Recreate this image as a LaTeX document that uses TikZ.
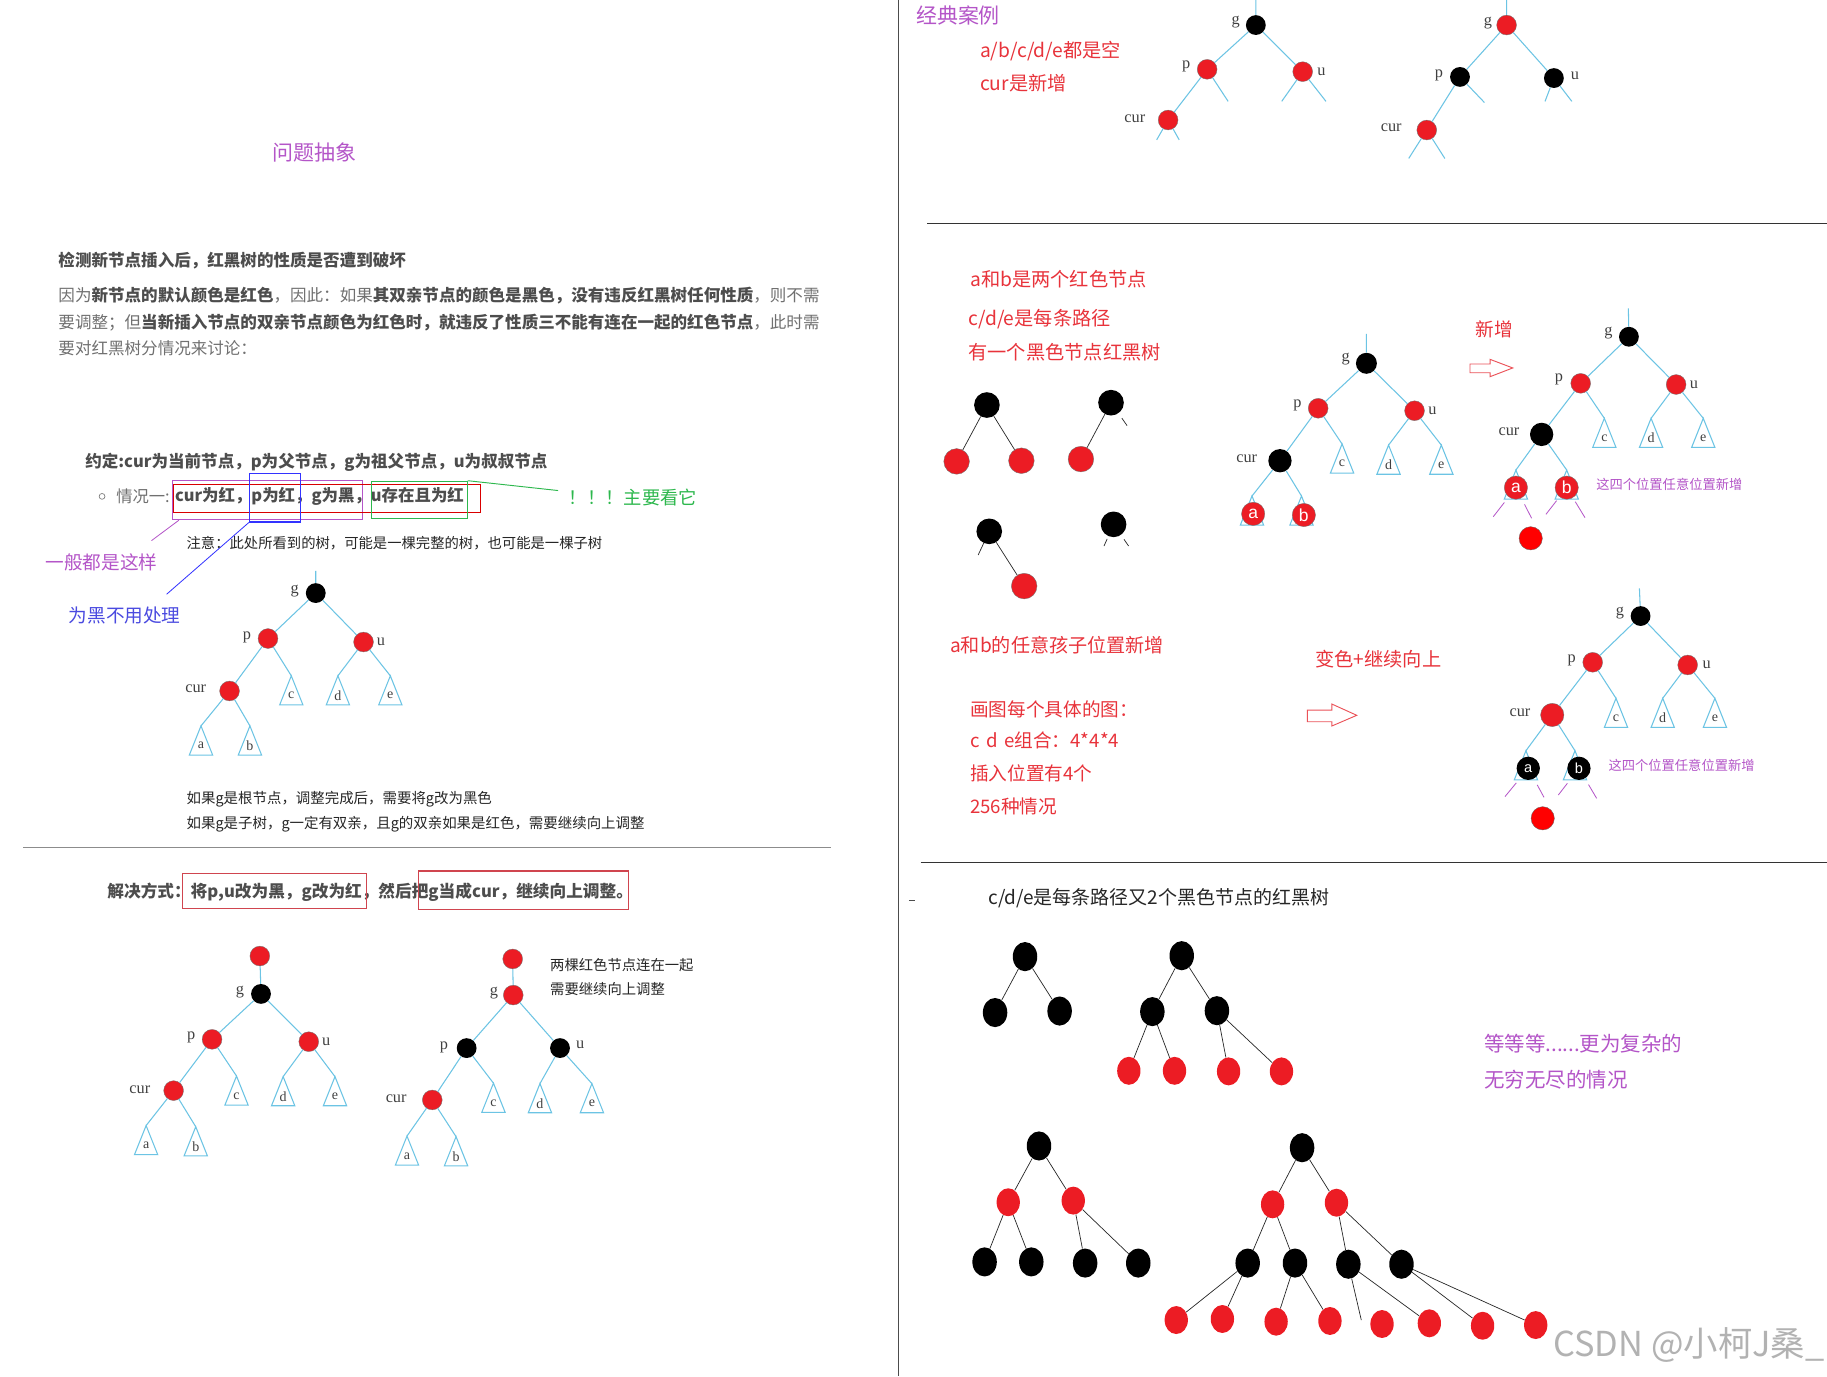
\documentclass[tikz,border=0pt]{standalone}
\usepackage{fontspec}
\setmainfont{Noto Sans CJK SC}
\newfontfamily\lab{Liberation Serif}
\newfontfamily\lsans{Liberation Sans}
\usetikzlibrary{shapes.geometric,calc}
\definecolor{nred}{HTML}{EC1C24}
\definecolor{pred}{HTML}{FF0000}
\definecolor{eblue}{HTML}{6CC4E4}
\definecolor{tred}{HTML}{E8333B}
\definecolor{purp}{HTML}{B455C8}
\definecolor{gtxt}{HTML}{4D4D4D}
\definecolor{ltxt}{HTML}{707070}
\definecolor{grn}{HTML}{2DB84D}
\definecolor{bltxt}{HTML}{4A4AE0}
\definecolor{boxred}{HTML}{D0454F}
\newcommand\myfs[1]{\fontsize{#1}{#1}\selectfont}
\newcommand\bd[1]{{\bfseries\color{gtxt}#1}}
\tikzset{
 rn/.style={circle, fill=nred, draw=black!55, line width=0.3pt, minimum size=17pt, inner sep=0pt},
 bn/.style={circle, fill=black, minimum size=17pt, inner sep=0pt},
 big/.style={minimum size=20pt},
 nn/.style={circle, fill=pred, draw=black!60, line width=0.3pt, minimum size=20pt, inner sep=0pt},
 edge/.style={eblue, line width=0.9pt},
 bline/.style={black!85, line width=0.6pt},
 pline/.style={purp, line width=0.7pt, shorten <=6pt},
 tri/.style={eblue, line width=0.9pt},
 tlab/.style={font=\lab\myfs{12}, text=black!75, inner sep=0pt},
 nl/.style={font=\lab\myfs{14}, text=black!75, inner sep=0pt},
 inl/.style={text=white, font=\lsans\myfs{15}},
 inls/.style={text=white, font=\lsans\myfs{12.5}},
 txt/.style={inner sep=0pt, anchor=west},
 ebk/.style={ellipse, fill=black, minimum width=21pt, minimum height=25pt, inner sep=0pt},
 erd/.style={ellipse, fill=nred, minimum width=20pt, minimum height=24pt, inner sep=0pt},
 arrowshape/.style={draw=tred!85, line width=0.8pt, fill=white},
}
\newcommand\subt[4]{%
  \coordinate (#1) at (#2,#3);
  \draw[tri] (#1) -- ++(-10,25) -- ++(20,0) -- cycle;
  \node[tlab] (#1l) at ($(#1)+(0,17)$) {#4};}
\begin{document}
\begin{tikzpicture}[x=1pt,y=-1pt]
\useasboundingbox (0,0) rectangle (1568,1181);
\fill[white] (0,0) rectangle (1568,1181);

% ---------- dividers
\draw[black!70, line width=0.9pt] (771,0) -- (771,1181);
\draw[black!45, line width=0.8pt] (20,727) -- (713,727);
\draw[black!80, line width=0.8pt] (796,192) -- (1568,192);
\draw[black!80, line width=0.8pt] (790,740) -- (1568,740);

% ---------- left texts
\node[anchor=center, inner sep=0pt, text=purp, font=\myfs{18}] (title) at (270,131) {问题抽象};
\node[txt, text=gtxt, font=\bfseries\myfs{14.2}] (q1) at (50,224) {检测新节点插入后，红黑树的性质是否遭到破坏};
\node[txt, text=ltxt, font=\myfs{14.2}] (q2) at (50,254) {因为\bd{新节点的默认颜色是红色}，因此：如果\bd{其双亲节点的颜色是黑色，没有违反红黑树任何性质}，则不需};
\node[txt, text=ltxt, font=\myfs{14.2}] (q3) at (50,277) {要调整；但\bd{当新插入节点的双亲节点颜色为红色时，就违反了性质三不能有连在一起的红色节点}，此时需};
\node[txt, text=ltxt, font=\myfs{14.2}] (q4) at (50,299) {要对红黑树分情况来讨论：};

\node[txt, text=gtxt, font=\bfseries\myfs{14.2}] (conv) at (73,397) {约定:cur为当前节点，p为父节点，g为祖父节点，u为叔叔节点};
\node[circle, draw=black!50, line width=0.6pt, minimum size=5pt, inner sep=0pt] (bul) at (87.6,426) {};
\node[txt, text=ltxt, font=\myfs{14}] (case1) at (99.6,426) {情况一:};
\node[txt, text=gtxt, font=\bfseries\myfs{14.1}] (case1b) at (150,426) {cur为红，p为红，g为黑，u存在且为红};
\node[draw=purp, line width=0.9pt, minimum width=163pt, minimum height=34pt, inner sep=0pt] (bxp) at (229.5,429) {};
\node[draw=red!85!black, line width=0.9pt, minimum width=263pt, minimum height=24pt, inner sep=0pt] (bxr) at (280.5,428) {};
\node[draw=blue!80, line width=0.9pt, minimum width=44pt, minimum height=42pt, inner sep=0pt] (bxb) at (236,427) {};
\node[draw=grn, line width=0.9pt, minimum width=82pt, minimum height=32pt, inner sep=0pt] (bxg) at (360,429) {};
\node[txt, text=grn, font=\myfs{15.7}] (look) at (488,427) {！！！主要看它};
\coordinate (lookc) at (479,421);
\draw[grn, line width=0.8pt] (bxg.north east) -- (lookc);
\node[anchor=center, inner sep=0pt, text=purp, font=\myfs{16}] (usual) at (87,483) {一般都是这样};
\coordinate (usualc) at (130,464);
\draw[purp, line width=0.7pt] ($(bxp.south west)+(6,0)$) -- (usualc);
\node[anchor=center, inner sep=0pt, text=bltxt, font=\myfs{16}] (blk) at (107,528) {为黑不用处理};
\coordinate (blkc) at (143,510);
\draw[blue!80, line width=0.7pt] (bxb.south west) -- (blkc);
\node[txt, text=black!85, font=\myfs{12.3}] (note) at (160,466) {注意：此处所看到的树，可能是一棵完整的树，也可能是一棵子树};

% ---------- tree 1
\node[bn] (g1) at (271,509) {};
\node[rn] (p1) at (230,548) {};
\node[rn] (u1) at (312,551) {};
\node[rn] (cur1) at (197,593) {};
\subt{c1}{250}{580}{c}
\subt{d1}{290}{580}{d}
\subt{e1}{335}{580}{e}
\subt{a1}{172.5}{623}{a}
\subt{b1}{214.5}{623}{b}
\node[nl] (g1l) at (253,507) {g};
\node[nl] (p1l) at (212,547) {p};
\node[nl] (u1l) at (327,551) {u};
\node[nl] (cur1l) at (168,591) {cur};
\coordinate (g1t) at (271,490);
\draw[edge] (g1) -- (g1t) (g1) -- (p1) (g1) -- (u1) (p1) -- (cur1) (p1) -- (c1) (u1) -- (d1) (u1) -- (e1) (cur1) -- (a1) (cur1) -- (b1);

\node[txt, text=black!85, font=\myfs{12.4}] (r1) at (160,686) {如果g是根节点，调整完成后，需要将g改为黑色};
\node[txt, text=black!85, font=\myfs{12.4}] (r2) at (160,707) {如果g是子树，g一定有双亲，且g的双亲如果是红色，需要继续向上调整};

% ---------- solution
\node[txt, text=gtxt, font=\bfseries\myfs{14.3}] (sol) at (92,766) {解决方式：将p,u改为黑，g改为红，然后把g当成cur，继续向上调整。};
\draw[boxred, line width=0.9pt] (157,749.5) rectangle (314.7,779.5);
\draw[boxred, line width=0.9pt] (359,747.5) rectangle (539,780.4);

% ---------- tree 2
\node[rn] (top2) at (223,820.5) {};
\node[bn] (g2) at (224,853) {};
\node[rn] (p2) at (182,892) {};
\node[rn] (u2) at (265,894) {};
\node[rn] (cur2) at (149,936) {};
\subt{c2}{203}{923.5}{c}
\subt{d2}{243}{924}{d}
\subt{e2}{287.5}{924}{e}
\subt{a2}{125.4}{966}{a}
\subt{b2}{168}{967}{b}
\node[nl] (g2l) at (206,851) {g};
\node[nl] (p2l) at (164,890) {p};
\node[nl] (u2l) at (280,894) {u};
\node[nl] (cur2l) at (120,935) {cur};
\draw[edge] (top2) -- (g2) (g2) -- (p2) (g2) -- (u2) (p2) -- (cur2) (p2) -- (c2) (u2) -- (d2) (u2) -- (e2) (cur2) -- (a2) (cur2) -- (b2);

% ---------- tree 3
\node[rn] (top3) at (440,823) {};
\node[rn] (g3) at (440.5,854) {};
\node[bn] (p3) at (400.5,899.5) {};
\node[bn] (u3) at (480.6,899.5) {};
\node[rn] (cur3) at (371,944) {};
\subt{c3}{423.5}{929.6}{c}
\subt{d3}{463.4}{930}{d}
\subt{e3}{508}{930}{e}
\subt{a3}{349.3}{975}{a}
\subt{b3}{391.4}{975.5}{b}
\node[nl] (g3l) at (424,852) {g};
\node[nl] (p3l) at (381,898.5) {p};
\node[nl] (u3l) at (498,897) {u};
\node[nl] (cur3l) at (340,943) {cur};
\draw[edge] (top3) -- (g3) (g3) -- (p3) (g3) -- (u3) (p3) -- (cur3) (p3) -- (c3) (u3) -- (d3) (u3) -- (e3) (cur3) -- (a3) (cur3) -- (b3);
\node[txt, text=black!85, font=\myfs{12.3}] (two1) at (472,828) {两棵红色节点连在一起};
\node[txt, text=black!85, font=\myfs{12.3}] (two2) at (472,849) {需要继续向上调整};

% ---------- right top
\node[txt, text=purp, font=\myfs{18}] (classic) at (786,13.5) {经典案例};
\node[txt, text=tred, font=\myfs{16.5}] (cl1) at (841,44) {a/b/c/d/e都是空};
\node[txt, text=tred, font=\myfs{16.5}] (cl2) at (841,71.6) {cur是新增};

\node[bn] (gA) at (1077.8,21.5) {};
\node[rn] (pA) at (1036,59.5) {};
\node[rn] (uA) at (1118,61.5) {};
\node[rn] (curA) at (1002.5,103) {};
\node[nl] (gAl) at (1060.5,19) {g};
\node[nl] (pAl) at (1018,57) {p};
\node[nl] (uAl) at (1134,61.5) {u};
\node[nl] (curAl) at (974,102) {cur};
\coordinate (gAt) at (1077.8,0);
\coordinate (pAs) at (1054,87);
\coordinate (uAs1) at (1100,87);
\coordinate (uAs2) at (1138,87);
\coordinate (curAs1) at (992.7,120);
\coordinate (curAs2) at (1012,120);
\draw[edge] (gA) -- (gAt) (gA) -- (pA) (gA) -- (uA) (pA) -- (curA) (pA) -- (pAs) (uA) -- (uAs1) (uA) -- (uAs2) (curA) -- (curAs1) (curA) -- (curAs2);

\node[rn] (gB) at (1293,21.5) {};
\node[bn] (pB) at (1253,66) {};
\node[bn] (uB) at (1333.6,67) {};
\node[rn] (curB) at (1224.5,111.6) {};
\node[nl] (gBl) at (1277,19.6) {g};
\node[nl] (pBl) at (1235,65) {p};
\node[nl] (uBl) at (1351.7,65) {u};
\node[nl] (curBl) at (1194,110) {cur};
\coordinate (gBt) at (1293,0);
\coordinate (pBs) at (1274,88);
\coordinate (uBs1) at (1326,87);
\coordinate (uBs2) at (1349,87);
\coordinate (curBs1) at (1209,136);
\coordinate (curBs2) at (1240,136);
\draw[edge] (gB) -- (gBt) (gB) -- (pB) (gB) -- (uB) (pB) -- (curB) (pB) -- (pBs) (uB) -- (uBs1) (uB) -- (uBs2) (curB) -- (curBs1) (curB) -- (curBs2);

% ---------- middle right
\node[txt, text=tred, font=\myfs{16.5}] (m1) at (832.5,240) {a和b是两个红色节点};
\node[txt, text=tred, font=\myfs{16.5}] (m2) at (831,274) {c/d/e是每条路径};
\node[txt, text=tred, font=\myfs{16.5}] (m3) at (831,302) {有一个黑色节点红黑树};

\node[bn, minimum size=22pt] (sa) at (847,347.6) {};
\node[rn, minimum size=22pt] (sa1) at (821,396) {};
\node[rn, minimum size=22pt] (sa2) at (876.6,395.4) {};
\node[bn, minimum size=22pt] (sb) at (953.5,345.6) {};
\node[rn, minimum size=22pt] (sb1) at (927.7,394) {};
\node[bn, minimum size=22pt] (sc) at (849,456) {};
\node[rn, minimum size=22pt] (sc1) at (879,503) {};
\node[bn, minimum size=22pt] (sd) at (955.7,450) {};
\coordinate (sbs) at (967.3,365.3);
\coordinate (scs) at (839.5,476.3);
\coordinate (sds1) at (947.5,468.6);
\coordinate (sds2) at (968.6,468.6);
\draw[bline] (sa) -- (sa1) (sa) -- (sa2) (sb) -- (sb1) (sc) -- (sc1);
\draw[bline, shorten <=5pt] (sb) -- (sbs);
\draw[bline, shorten <=2.5pt] (sc) -- (scs) (sd) -- (sds1);
\draw[bline, shorten <=4.5pt] (sd) -- (sds2);

% tree M
\node[bn, minimum size=18pt] (gM) at (1172.7,311.8) {};
\node[rn] (pM) at (1131.3,350.4) {};
\node[rn] (uM) at (1214,352.5) {};
\node[bn, big] (curM) at (1098.5,395.4) {};
\subt{cM}{1151.8}{381}{c}
\subt{dM}{1191.7}{382}{d}
\subt{eM}{1237}{382}{e}
\subt{aMt}{1074.5}{425.7}{}
\subt{bMt}{1117}{425.7}{}
\node[rn, big, inl] (aM) at (1075.5,441) {a};
\node[rn, big, inl] (bM) at (1119,442) {b};
\node[nl] (gMl) at (1155,308) {g};
\node[nl] (pMl) at (1113.5,347.6) {p};
\node[nl] (uMl) at (1229.4,352.5) {u};
\node[nl] (curMl) at (1070,393.3) {cur};
\coordinate (gMt) at (1172.7,286.6);
\draw[edge] (gM) -- (gMt) (gM) -- (pM) (gM) -- (uM) (pM) -- (curM) (pM) -- (cM) (uM) -- (dM) (uM) -- (eM) (curM) -- (aMt) (curM) -- (bMt);

\node[txt, text=tred, font=\myfs{16}] (add) at (1266,283) {新增};
\draw[arrowshape] (1261.6,312.4) -- (1278.8,312.4) -- (1278.8,308.4) -- (1298.3,315.8) -- (1278.8,323.3) -- (1278.8,319.9) -- (1261.6,319.9) -- cycle;

% tree N
\node[bn] (gN) at (1398,289) {};
\node[rn] (pN) at (1356.6,329) {};
\node[rn] (uN) at (1438.5,330) {};
\node[bn, big] (curN) at (1323.1,372.8) {};
\subt{cN}{1376.9}{359}{c}
\subt{dN}{1417}{359}{d}
\subt{eN}{1461.8}{359}{e}
\subt{aNt}{1301}{403.4}{}
\subt{bNt}{1344.6}{403.4}{}
\node[rn, big, inl] (aN) at (1301,418.5) {a};
\node[rn, big, inl] (bN) at (1344.6,418.5) {b};
\node[nn] (nN) at (1313.7,462) {};
\node[nl] (gNl) at (1380.4,286) {g};
\node[nl] (pNl) at (1338,325.6) {p};
\node[nl] (uNl) at (1453.8,330.4) {u};
\node[nl] (curNl) at (1295,370.5) {cur};
\coordinate (gNt) at (1397.5,264.6);
\draw[edge] (gN) -- (gNt) (gN) -- (pN) (gN) -- (uN) (pN) -- (curN) (pN) -- (cN) (uN) -- (dN) (uN) -- (eN) (curN) -- (aNt) (curN) -- (bNt);
\coordinate (aNs1) at (1281.6,443.4);
\coordinate (aNs2) at (1314.5,444.8);
\coordinate (bNs1) at (1326.8,441.4);
\coordinate (bNs2) at (1360.3,444.3);
\draw[pline] (aN) -- (aNs1);
\draw[pline] (aN) -- (aNs2);
\draw[pline, shorten <=4pt] (bN) -- (bNs1);
\draw[pline, shorten <=4pt] (bN) -- (bNs2);
\node[txt, text=purp, font=\myfs{11.4}] (four1) at (1369.8,416) {这四个位置任意位置新增};

% lower middle texts
\node[txt, text=tred, font=\myfs{16.4}] (any) at (815.3,554) {a和b的任意孩子位置新增};
\node[txt, text=tred, font=\myfs{16.5}] (recol) at (1128.6,566) {变色+继续向上};
\node[txt, text=tred, font=\myfs{16}] (k1) at (832.5,608.5) {画图每个具体的图：};
\node[txt, text=tred, font=\myfs{16}] (k2) at (832.5,635) {c\hspace{0.35em}d\hspace{0.35em}e组合：4*4*4};
\node[txt, text=tred, font=\myfs{16}] (k3) at (832.5,663.7) {插入位置有4个};
\node[txt, text=tred, font=\myfs{16}] (k4) at (832.5,692.3) {256种情况};
\draw[arrowshape] (1122,609.4) -- (1143,609.4) -- (1143,604.2) -- (1164.4,613.9) -- (1143,623.1) -- (1143,619.4) -- (1122,619.4) -- cycle;

% tree P
\node[bn] (gP) at (1408,528.7) {};
\node[rn] (pP) at (1366.9,568.4) {};
\node[rn] (uP) at (1448.4,570.7) {};
\node[rn, big] (curP) at (1332.2,613.6) {};
\subt{cP}{1386.9}{599.3}{c}
\subt{dP}{1427}{599.3}{d}
\subt{eP}{1471.8}{599.3}{e}
\subt{aPt}{1309.6}{644.3}{}
\subt{bPt}{1351.7}{644.3}{}
\node[bn, big, inls] (aP) at (1311.6,659.4) {a};
\node[bn, big, inls] (bP) at (1355.1,659.4) {b};
\node[nn] (nP) at (1324,702.3) {};
\node[nl] (gPl) at (1390.3,526.2) {g};
\node[nl] (pPl) at (1348.9,566.4) {p};
\node[nl] (uPl) at (1464.7,570.7) {u};
\node[nl] (curPl) at (1304.5,611.3) {cur};
\coordinate (gPt) at (1407,505);
\draw[edge] (gP) -- (gPt) (gP) -- (pP) (gP) -- (uP) (pP) -- (curP) (pP) -- (cP) (uP) -- (dP) (uP) -- (eP) (curP) -- (aPt) (curP) -- (bPt);
\coordinate (aPs1) at (1291.6,683.7);
\coordinate (aPs2) at (1325.1,684.3);
\coordinate (bPs1) at (1337.4,682.3);
\coordinate (bPs2) at (1370.3,685.2);
\draw[pline] (aP) -- (aPs1);
\draw[pline] (aP) -- (aPs2);
\draw[pline] (bP) -- (bPs1);
\draw[pline] (bP) -- (bPs2);
\node[txt, text=purp, font=\myfs{11.4}] (four2) at (1380.3,656.5) {这四个位置任意位置新增};

% ---------- bottom right
\coordinate (dash1) at (780,773);
\coordinate (dash2) at (785,773);
\draw[black!70, line width=0.7pt] (dash1) -- (dash2);
\node[txt, text=black!85, font=\myfs{16.3}] (two) at (848,771) {c/d/e是每条路径又2个黑色节点的红黑树};

% tree E
\node[ebk] (E0) at (879.7,821) {};
\node[ebk] (E1) at (854,869) {};
\node[ebk] (E2) at (909.4,867.7) {};
\draw[bline] (E0) -- (E1) (E0) -- (E2);
% tree F
\node[ebk] (F0) at (1014.2,820.2) {};
\node[ebk] (F1) at (989,868.2) {};
\node[ebk] (F2) at (1044.4,867.4) {};
\node[erd] (F3) at (968.8,919) {};
\node[erd] (F4) at (1008,919) {};
\node[erd] (F5) at (1054.4,919.5) {};
\node[erd] (F6) at (1099.8,919.5) {};
\draw[bline] (F0) -- (F1) (F0) -- (F2) (F1) -- (F3) (F1) -- (F4) (F2) -- (F5) (F2) -- (F6);

\node[txt, text=purp, font=\myfs{17.6}] (etc1) at (1273.6,895.4) {等等等......更为复杂的};
\node[txt, text=purp, font=\myfs{17.6}] (etc2) at (1273.6,926.9) {无穷无尽的情况};

% tree G
\node[ebk] (G0) at (891.7,983.5) {};
\node[erd] (G1) at (865.3,1031.8) {};
\node[erd] (G2) at (921.1,1030.4) {};
\node[ebk] (G3) at (845,1083) {};
\node[ebk] (G4) at (885.1,1083) {};
\node[ebk] (G5) at (931.3,1084) {};
\node[ebk] (G6) at (976.9,1084) {};
\draw[bline] (G0) -- (G1) (G0) -- (G2) (G1) -- (G3) (G1) -- (G4) (G2) -- (G5) (G2) -- (G6);

% tree H
\node[ebk] (H0) at (1117.5,985) {};
\node[erd] (H1) at (1092.2,1033.6) {};
\node[erd] (H2) at (1147,1032.2) {};
\node[ebk] (H3) at (1070.8,1084) {};
\node[ebk] (H4) at (1111.4,1084) {};
\node[ebk] (H5) at (1157.2,1085) {};
\node[ebk] (H6) at (1202.8,1085) {};
\node[erd] (H7) at (1009.5,1132.9) {};
\node[erd] (H8) at (1049.1,1132) {};
\node[erd] (H9) at (1095.2,1134.3) {};
\node[erd] (H10) at (1141.4,1133.7) {};
\node[erd] (H11) at (1186.1,1136.3) {};
\node[erd] (H12) at (1226.7,1135.7) {};
\node[erd] (H13) at (1272.4,1137.8) {};
\node[erd] (H14) at (1318,1137.2) {};
\coordinate (H5e) at (1168.3,1132.9);
\draw[bline] (H0) -- (H1) (H0) -- (H2) (H1) -- (H3) (H1) -- (H4) (H2) -- (H5) (H2) -- (H6)
  (H3) -- (H7) (H3) -- (H8) (H4) -- (H9) (H4) -- (H10) (H5) -- (H5e) (H5) -- (H12) (H6) -- (H13) (H6) -- (H14);

\node[txt, text=black!30, font=\myfs{29.5}] (wm) at (1333,1154) {CSDN @小柯J桑\_};
\end{tikzpicture}
\end{document}
